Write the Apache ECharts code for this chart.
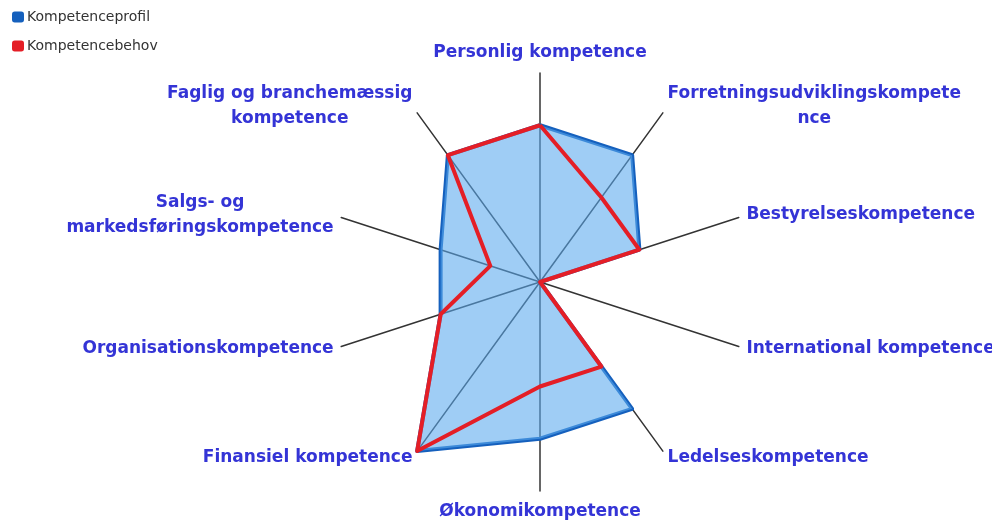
<!DOCTYPE html>
<html>
<head>
<meta charset="utf-8">
<script src="https://cdn.jsdelivr.net/npm/echarts@6/dist/echarts.min.js"></script>
<style>
  html, body { margin: 0; padding: 0; background: #fff; }
  #chart { width: 992px; height: 523px; }
</style>
</head>
<body>
<div id="chart"></div>
<script>
// indicators go counterclockwise from the top
var indicatorNames = [
  'Personlig kompetence',
  'Faglig og branchemæssig\nkompetence',
  'Salgs- og\nmarkedsføringskompetence',
  'Organisationskompetence',
  'Finansiel kompetence',
  'Økonomikompetence',
  'Ledelseskompetence',
  'International kompetence',
  'Bestyrelseskompetence',
  'Forretningsudviklingskompete\nnce'
]
var maxValue = 4
var seriesNames = ['Kompetenceprofil', 'Kompetencebehov']
var profilValues = [3, 3, 2, 2, 4, 3, 3, 0, 2, 3]
var behovValues = [3, 3, 1, 2, 4, 2, 2, 0, 2, 2]

var labelColor = '#3434d6'
var labelFont = 'DejaVu Sans'

var chart = echarts.init(document.getElementById('chart'))
chart.setOption({
  animation: false,
  legend: {
    orient: 'vertical',
    left: 7,
    top: 5,
    itemWidth: 12,
    itemHeight: 11,
    itemGap: 15,
    icon: 'roundRect',
    textStyle: {
      fontFamily: labelFont,
      fontSize: 14,
      color: '#333',
      padding: [0, 0, 0, -2]
    },
    data: seriesNames
  },
  radar: {
    center: [540, 282],
    radius: 209,
    startAngle: 90,
    shape: 'polygon',
    nameGap: 8,
    splitNumber: 4,
    indicator: indicatorNames.map(function (n) {
      return { name: n, min: 0, max: maxValue }
    }),
    axisName: {
      color: labelColor,
      fontFamily: labelFont,
      fontWeight: 'bold',
      fontSize: 17,
      lineHeight: 25,
      formatter: function (name) {
        return name.split('\n').map(function (l) { return '{c|' + l + '}' }).join('\n')
      },
      rich: {
        c: {
          align: 'center',
          color: labelColor,
          fontFamily: labelFont,
          fontWeight: 'bold',
          fontSize: 17,
          lineHeight: 25
        }
      }
    },
    axisLine: {
      lineStyle: { color: '#333', width: 1.5 }
    },
    splitLine: { show: false },
    splitArea: { show: false }
  },
  series: [{
    type: 'radar',
    symbol: 'none',
    data: [
      {
        name: seriesNames[0],
        value: profilValues,
        itemStyle: { color: '#1560bd' },
        lineStyle: { color: '#1560bd', width: 4 },
        areaStyle: { color: '#5aa8ee', opacity: 0.58 }
      },
      {
        name: seriesNames[1],
        value: behovValues,
        itemStyle: { color: '#e41e26' },
        lineStyle: { color: '#e41e26', width: 4 }
      }
    ]
  }]
})
</script>
</body>
</html>
